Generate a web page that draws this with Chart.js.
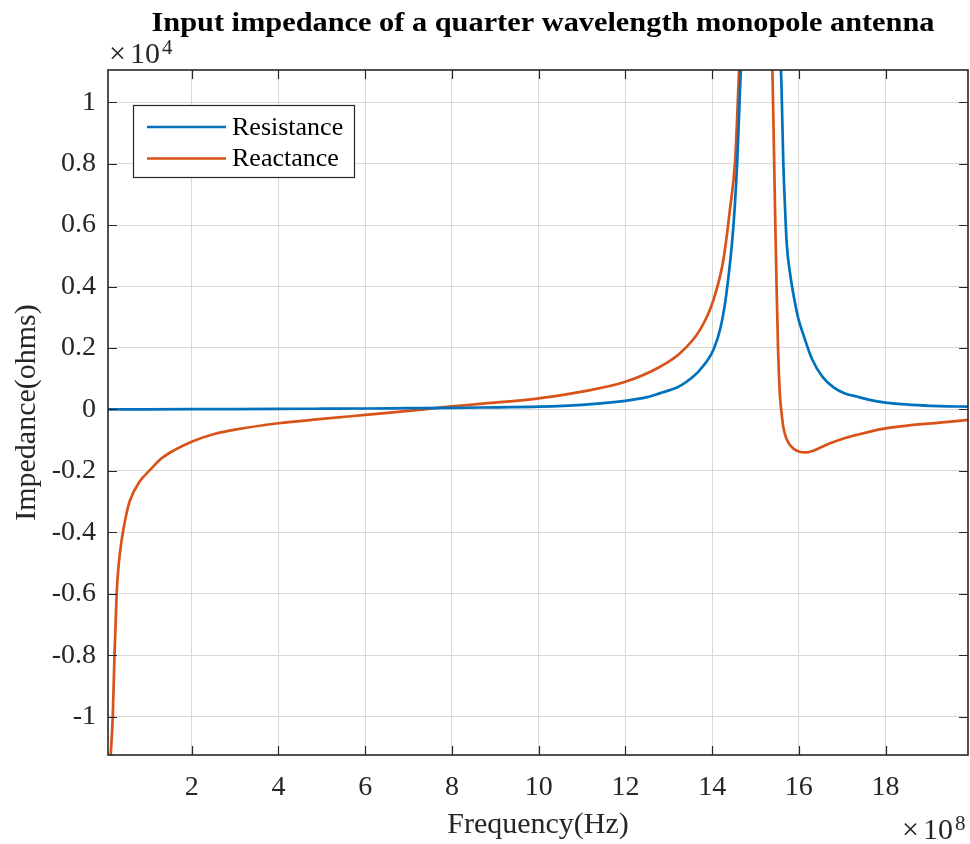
<!DOCTYPE html>
<html>
<head>
<meta charset="utf-8">
<script src="https://cdn.jsdelivr.net/npm/chart.js@4"></script>
<style>
html,body{margin:0;padding:0;background:#fff;}
#wrap{width:970px;height:844px;position:relative;}
</style>
</head>
<body>
<div id="wrap"><canvas id="c" width="970" height="844"></canvas></div>
<script>
// ---- data (x in units of 1e8 Hz, y in units of 1e4 ohms) ----
const chartTitle = 'Input impedance of a quarter wavelength monopole antenna';
const xLabel = 'Frequency(Hz)';
const yLabel = 'Impedance(ohms)';
const seriesNames = ['Resistance', 'Reactance'];
const xExponent = '8';
const yExponent = '4';
const xTicks = [2, 4, 6, 8, 10, 12, 14, 16, 18];
const yTicks = [-1, -0.8, -0.6, -0.4, -0.2, 0, 0.2, 0.4, 0.6, 0.8, 1];

const resistanceFreq = [0.07, 0.5, 1, 2, 3, 4, 5, 6, 7, 8, 9, 10, 11, 12, 12.5, 12.8, 13.2, 13.41, 13.72, 14.03, 14.2, 14.33, 14.49, 14.58, 14.64, 14.7, 14.85, 15.1, 15.35, 15.55, 15.6, 15.64, 15.68, 15.72, 15.8, 15.87, 15.98, 16.1, 16.3, 16.55, 16.8, 17.05, 17.33, 17.6, 18.0, 18.6, 19.25, 19.9];
const resistanceVal  = [0.0, 0.0002, 0.0004, 0.0008, 0.0012, 0.0017, 0.0023, 0.003, 0.004, 0.005, 0.007, 0.009, 0.015, 0.028, 0.04, 0.053, 0.072, 0.09, 0.129, 0.194, 0.27, 0.378, 0.595, 0.81, 1.03, 1.25, 2.2, 4.0, 2.2, 1.25, 1.05, 0.81, 0.66, 0.54, 0.44, 0.378, 0.3, 0.245, 0.165, 0.105, 0.072, 0.053, 0.042, 0.032, 0.022, 0.015, 0.011, 0.009];

const reactanceFreq = [0.13, 0.18, 0.22, 0.27, 0.32, 0.385, 0.48, 0.58, 0.8, 1.04, 1.3, 1.58, 2.0, 2.5, 3, 4, 5, 6, 7, 7.72, 8, 8.65, 10, 11, 12, 12.8, 13.26, 13.72, 14.03, 14.26, 14.41, 14.53, 14.6, 14.66, 14.8, 15.0, 15.2, 15.33, 15.39, 15.43, 15.46, 15.49, 15.52, 15.56, 15.6, 15.64, 15.7, 15.79, 15.9, 16.02, 16.15, 16.3, 16.5, 16.72, 17.0, 17.33, 17.9, 18.5, 19.25, 19.9];
const reactanceVal  = [-1.13, -1.0, -0.80, -0.598, -0.5, -0.425, -0.35, -0.295, -0.235, -0.197, -0.16, -0.134, -0.105, -0.081, -0.066, -0.045, -0.031, -0.018, -0.005, 0.006, 0.010, 0.018, 0.036, 0.058, 0.09, 0.139, 0.183, 0.259, 0.356, 0.487, 0.65, 0.81, 1.03, 1.25, 1.8, 3.0, 2.2, 1.4, 1.105, 0.81, 0.58, 0.378, 0.2, 0.053, -0.01, -0.056, -0.09, -0.115, -0.13, -0.138, -0.14, -0.136, -0.124, -0.11, -0.096, -0.083, -0.064, -0.053, -0.043, -0.034];

const seriesColors = ['#0072BD', '#D95319'];

// ---- build ----
const toPts = (xs, ys) => xs.map((x, i) => ({x: x, y: ys[i]}));
const FONT = 'Liberation Serif';
const INK = '#262626';

const overlay = {
  id: 'overlay',
  beforeDraw(chart) {
    const ctx = chart.ctx;
    ctx.save();
    ctx.fillStyle = '#fff';
    ctx.fillRect(0, 0, chart.width, chart.height);
    ctx.restore();
  },
  afterDraw(chart) {
    const ctx = chart.ctx;
    const a = chart.chartArea;
    const xs = chart.scales.x, ys = chart.scales.y;
    ctx.save();
    // inward ticks
    ctx.strokeStyle = INK;
    ctx.lineWidth = 1.2;
    const tl = 9;
    ctx.beginPath();
    xTicks.forEach(v => {
      const px = Math.round(xs.getPixelForValue(v)) + 0.5;
      ctx.moveTo(px, a.bottom); ctx.lineTo(px, a.bottom - tl);
      ctx.moveTo(px, a.top); ctx.lineTo(px, a.top + tl);
    });
    yTicks.forEach(v => {
      const py = Math.round(ys.getPixelForValue(v)) + 0.5;
      ctx.moveTo(a.left, py); ctx.lineTo(a.left + tl, py);
      ctx.moveTo(a.right, py); ctx.lineTo(a.right - tl, py);
    });
    ctx.stroke();
    // box
    ctx.lineWidth = 1.6;
    ctx.strokeRect(a.left, a.top, a.right - a.left, a.bottom - a.top);

    // title (slightly widened)
    ctx.fillStyle = '#000';
    ctx.font = 'bold 28px "' + FONT + '"';
    ctx.textAlign = 'center';
    ctx.textBaseline = 'alphabetic';
    ctx.save();
    ctx.translate(543, 31);
    const tw = ctx.measureText(chartTitle).width;
    ctx.scale(783 / tw, 1);
    ctx.fillText(chartTitle, 0, 0);
    ctx.restore();

    // exponents
    ctx.fillStyle = INK;
    ctx.textAlign = 'left';
    const drawExp = (x, y, e) => {
      ctx.font = '30px "' + FONT + '"';
      ctx.fillText('\u00d7', x, y);
      ctx.fillText('10', x + 21, y);
      ctx.font = '21px "' + FONT + '"';
      ctx.fillText(e, x + 53, y - 9);
    };
    drawExp(109, 63, yExponent);
    drawExp(902, 839, xExponent);

    // legend
    const lx = 133, ly = 105, lw = 221, lh = 72;
    ctx.fillStyle = '#fff';
    ctx.fillRect(lx, ly, lw, lh);
    ctx.strokeStyle = INK;
    ctx.lineWidth = 1.2;
    ctx.strokeRect(lx + 0.5, ly + 0.5, lw, lh);
    chart.data.datasets.forEach((ds, i) => {
      const yy = 127 + i * 31.5;
      ctx.strokeStyle = ds.borderColor;
      ctx.lineWidth = 2.6;
      ctx.beginPath();
      ctx.moveTo(147, yy); ctx.lineTo(226, yy);
      ctx.stroke();
      ctx.fillStyle = '#000';
      ctx.font = '26px "' + FONT + '"';
      ctx.textBaseline = 'middle';
      ctx.fillText(ds.label, 232, yy + 1);
    });
    ctx.restore();
  }
};

new Chart(document.getElementById('c'), {
  type: 'line',
  data: {
    datasets: [
      {label: seriesNames[0], data: toPts(resistanceFreq, resistanceVal), borderColor: seriesColors[0]},
      {label: seriesNames[1], data: toPts(reactanceFreq, reactanceVal), borderColor: seriesColors[1]}
    ]
  },
  options: {
    responsive: false,
    animation: false,
    devicePixelRatio: 1,
    elements: {
      point: {radius: 0, hoverRadius: 0},
      line: {borderWidth: 2.7, cubicInterpolationMode: 'monotone', fill: false}
    },
    layout: {padding: {top: 70, right: 2, left: 0, bottom: 0}},
    plugins: {legend: {display: false}, title: {display: false}, tooltip: {enabled: false}},
    scales: {
      x: {
        type: 'linear', min: 0.07, max: 19.9,
        afterBuildTicks: s => { s.ticks = xTicks.map(v => ({value: v})); },
        afterFit: s => { s.height = 89; },
        grid: {color: '#d8d8d8', lineWidth: 1, drawTicks: false},
        border: {display: false},
        ticks: {font: {family: FONT, size: 28}, color: INK, padding: 16, maxRotation: 0,
                callback: v => String(v)},
        title: {display: true, text: xLabel, font: {family: FONT, size: 30}, color: INK, padding: {top: 0, bottom: 1}}
      },
      y: {
        type: 'linear', min: -1.125, max: 1.105,
        afterBuildTicks: s => { s.ticks = yTicks.map(v => ({value: v})); },
        afterFit: s => { s.width = 108; },
        grid: {color: '#d8d8d8', lineWidth: 1, drawTicks: false},
        border: {display: false},
        ticks: {font: {family: FONT, size: 28}, color: INK, padding: 12,
                callback: v => String(Number(v.toFixed(1)))},
        title: {display: true, text: yLabel, font: {family: FONT, size: 30}, color: INK, padding: {top: 9, bottom: 0}}
      }
    }
  },
  plugins: [overlay]
});
</script>
</body>
</html>
